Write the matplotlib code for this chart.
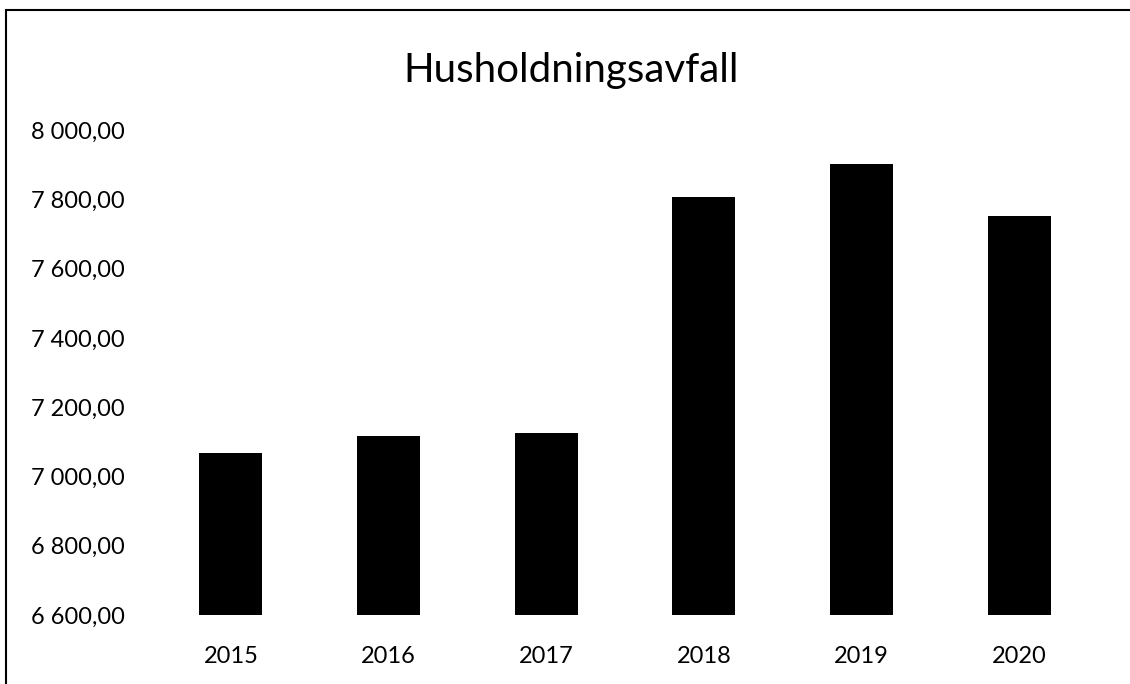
import matplotlib
matplotlib.use("Agg")
import matplotlib.pyplot as plt
from matplotlib.patches import Rectangle
from matplotlib.ticker import FuncFormatter

# Data
years = ["2015", "2016", "2017", "2018", "2019", "2020"]
avfall = [7067, 7117, 7125, 7806, 7901, 7751]
y_ticks = [6600, 6800, 7000, 7200, 7400, 7600, 7800, 8000]

plt.rcParams["font.family"] = ["Lato", "DejaVu Sans"]


def norsk_format(v, pos):
    s = f"{v:,.2f}"
    return s.replace(",", " ").replace(".", ",")


fig = plt.figure(figsize=(11.3, 6.84), dpi=100)
ax = fig.add_axes([0.1345, 0.1009, 0.8372, 0.709])

ax.bar(range(len(years)), avfall, width=0.4, color="black", zorder=3)
ax.set_xlim(-0.5, len(years) - 0.5)
ax.set_ylim(6600, 8000)
ax.set_yticks(y_ticks)
ax.yaxis.set_major_formatter(FuncFormatter(norsk_format))
ax.set_xticks(range(len(years)))
ax.set_xticklabels(years)

for s in ax.spines.values():
    s.set_visible(False)
ax.tick_params(length=0, labelsize=17, colors="black")
ax.tick_params(axis="y", pad=19.5)
ax.tick_params(axis="x", pad=22)

fig.text(0.505, 0.897, "Husholdningsavfall", ha="center", va="center", fontsize=29)

# ramme rundt figuren
fig.patches.append(Rectangle((6 / 1130, -0.05), 1.1, 0.05 + 1 - 10 / 684,
                             transform=fig.transFigure, fill=False,
                             edgecolor="black", linewidth=1.5))

fig.savefig("out.png", dpi=100)
